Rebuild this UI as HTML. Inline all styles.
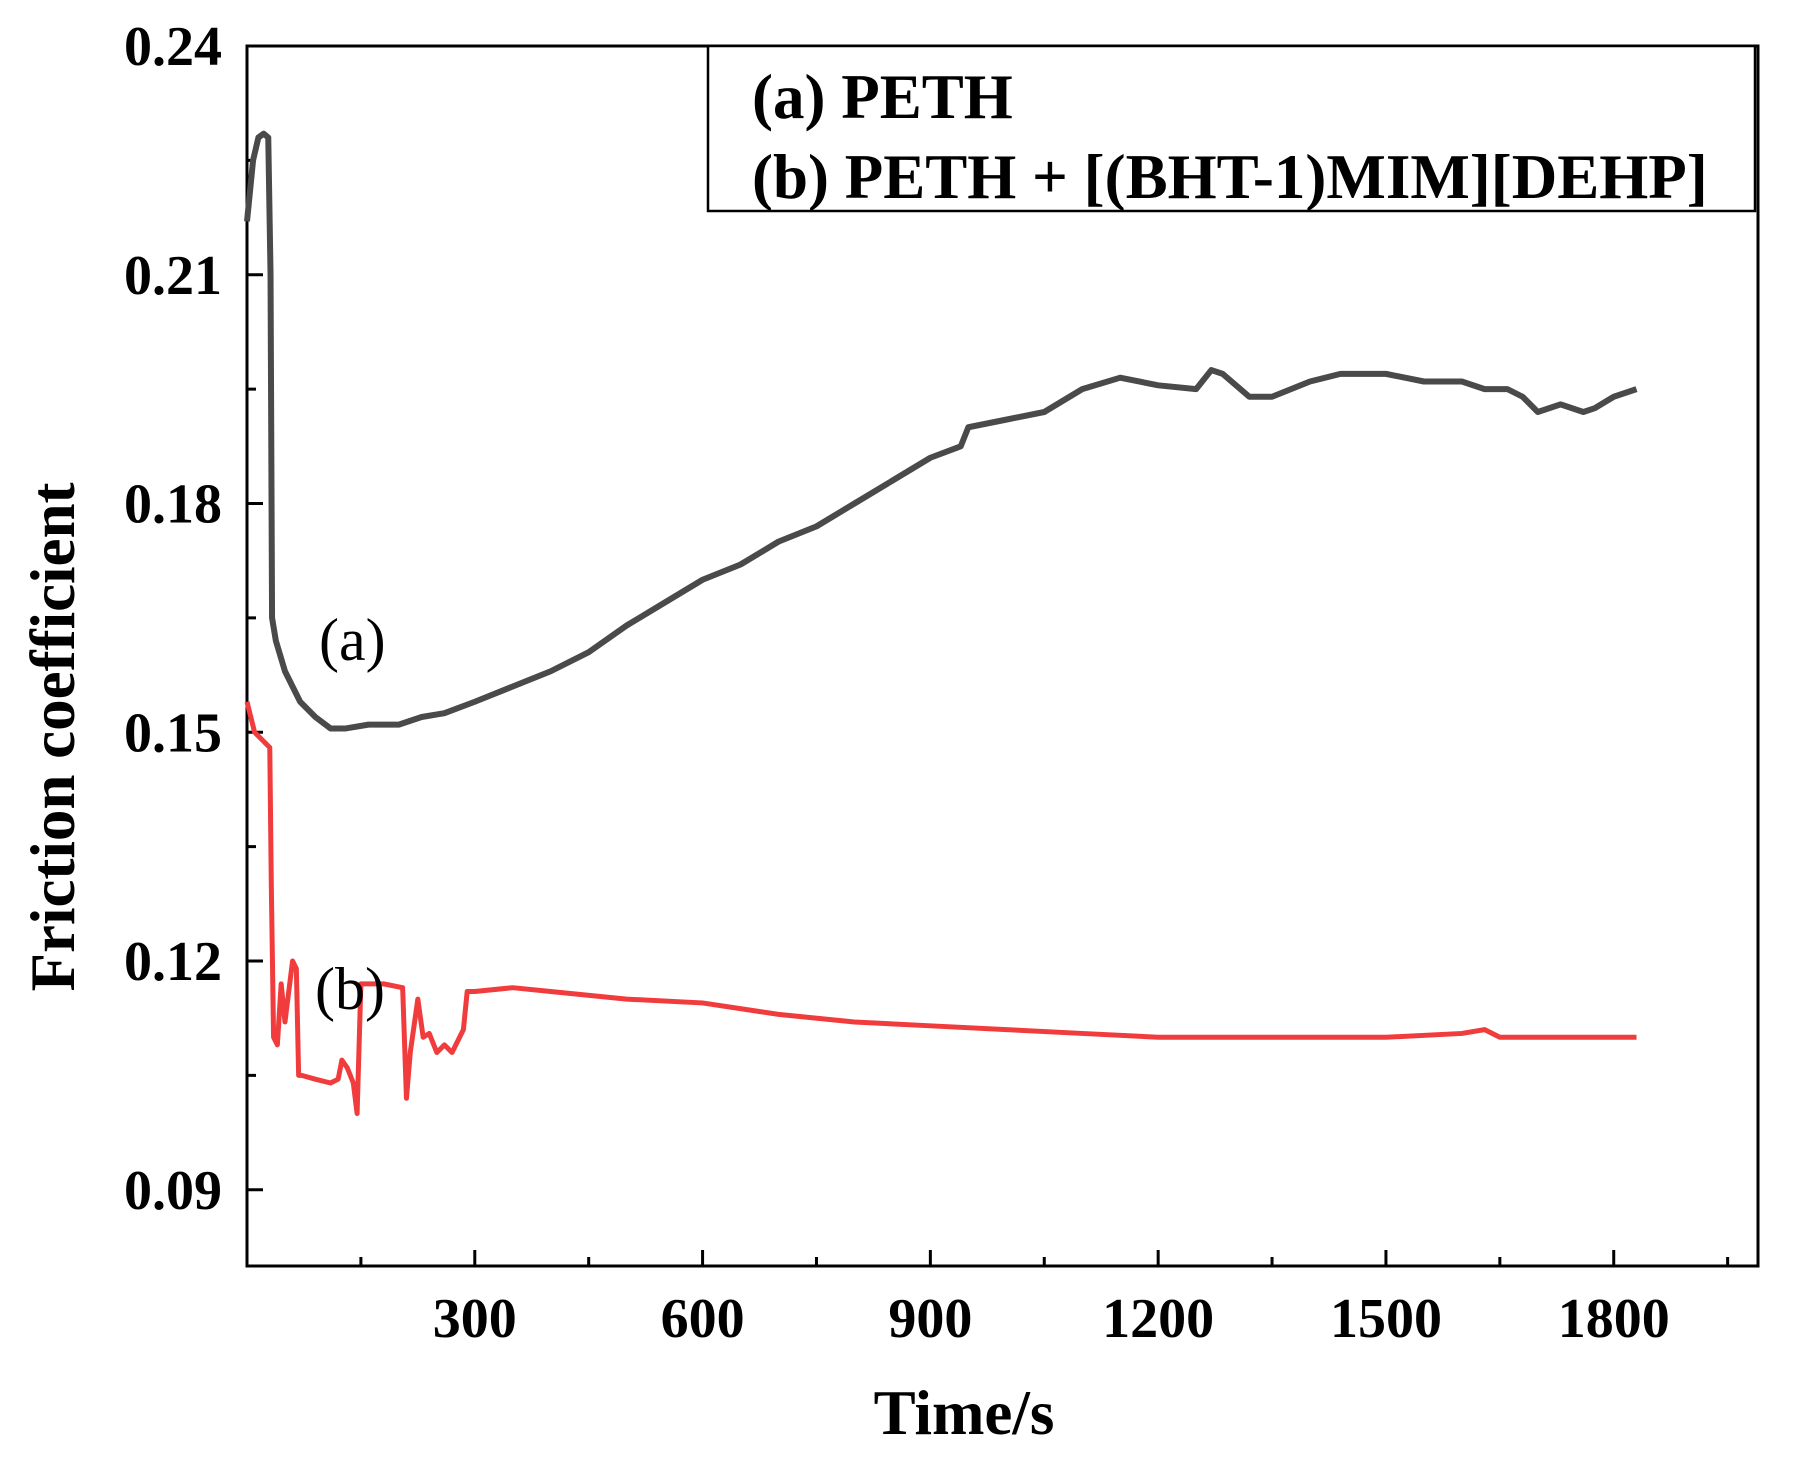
<!DOCTYPE html>
<html><head><meta charset="utf-8"><style>
body{margin:0;background:#fff}
svg text{font-family:"Liberation Serif",serif;font-weight:bold;fill:#000}
</style></head><body>
<svg id="c" width="1796" height="1463" xmlns="http://www.w3.org/2000/svg"></svg>
<script>
const timesA=[0,8,15,22,28,31,33,38,50,70,90,110,130,160,200,230,260,300,350,400,450,500,550,600,650,700,750,800,850,900,940,950,1000,1050,1100,1150,1200,1250,1270,1285,1320,1350,1400,1440,1500,1550,1600,1630,1660,1680,1700,1730,1760,1775,1800,1830];
const valuesA=[0.217,0.225,0.228,0.2285,0.228,0.21,0.165,0.162,0.158,0.154,0.152,0.1505,0.1505,0.151,0.151,0.152,0.1525,0.154,0.156,0.158,0.1605,0.164,0.167,0.170,0.172,0.175,0.177,0.180,0.183,0.186,0.1875,0.190,0.191,0.192,0.195,0.1965,0.1955,0.195,0.1975,0.197,0.194,0.194,0.196,0.197,0.197,0.196,0.196,0.195,0.195,0.194,0.192,0.193,0.192,0.1925,0.194,0.195];
const timesB=[0,10,20,30,32,35,40,45,50,55,60,65,68,72,90,110,120,125,132,140,145,150,180,205,210,215,225,232,240,250,260,270,280,285,290,300,350,400,500,600,700,800,900,1000,1100,1200,1300,1400,1500,1600,1630,1650,1700,1830];
const valuesB=[0.154,0.150,0.149,0.148,0.130,0.110,0.109,0.117,0.112,0.116,0.120,0.119,0.105,0.105,0.1045,0.104,0.1045,0.107,0.106,0.104,0.100,0.117,0.117,0.1165,0.102,0.108,0.115,0.110,0.1105,0.108,0.109,0.108,0.110,0.111,0.116,0.116,0.1165,0.116,0.115,0.1145,0.113,0.112,0.1115,0.111,0.1105,0.110,0.110,0.110,0.110,0.1105,0.111,0.110,0.110,0.110];
const yTicks=[0.09,0.12,0.15,0.18,0.21,0.24];
const xTicks=[300,600,900,1200,1500,1800];
const L=247,R=1758,T=46,B=1266,X0=0,X1=1990,Y0=0.08,Y1=0.24;
const sx=v=>L+(v-X0)/(X1-X0)*(R-L), sy=v=>B-(v-Y0)/(Y1-Y0)*(B-T);
const svg=document.getElementById('c');const NS='http://www.w3.org/2000/svg';
function mk(t,a,p){const e=document.createElementNS(NS,t);for(const k in a)e.setAttribute(k,a[k]);(p||svg).appendChild(e);return e;}
let e;
e=mk('rect',{x:L,y:T,width:R-L,height:B-T,fill:'none',stroke:'#000','stroke-width':3});

yTicks.forEach(v=>{const y=sy(v);
 e=mk('line',{x1:L,x2:L+16,y1:y,y2:y,stroke:'#000','stroke-width':3});
 e=mk('text',{x:222,y:y+19,'font-size':56,'text-anchor':'end'});e.textContent=v.toFixed(2);});
for(let v=0.105;v<0.24;v+=0.03){const y=sy(v);e=mk('line',{x1:L,x2:L+9,y1:y,y2:y,stroke:'#000','stroke-width':3});}
xTicks.forEach(v=>{const x=sx(v);
 e=mk('line',{x1:x,x2:x,y1:B,y2:B-16,stroke:'#000','stroke-width':3});
 e=mk('text',{x:x,y:1337,'font-size':56,'text-anchor':'middle'});e.textContent=v;});
for(let v=150;v<1990;v+=300){const x=sx(v);e=mk('line',{x1:x,x2:x,y1:B,y2:B-9,stroke:'#000','stroke-width':3});}
e=mk('polyline',{points:timesA.map((t,i)=>sx(t)+','+sy(valuesA[i])).join(' '),fill:'none',stroke:'#4a4a4a','stroke-width':6,'stroke-linejoin':'round'});

e=mk('polyline',{points:timesB.map((t,i)=>sx(t)+','+sy(valuesB[i])).join(' '),fill:'none',stroke:'#f03c3c','stroke-width':5,'stroke-linejoin':'round'});

e=mk('text',{x:319,y:660,'font-size':60,style:'font-weight:normal'});e.textContent='(a)';
e=mk('text',{x:315,y:1009,'font-size':60,style:'font-weight:normal'});e.textContent='(b)';
e=mk('rect',{x:708,y:46,width:1047,height:165,fill:'#fff',stroke:'#000','stroke-width':2.5});
e=mk('text',{x:752,y:118,'font-size':63});e.textContent='(a) PETH';
e=mk('text',{x:752,y:198,'font-size':63});e.textContent='(b) PETH + [(BHT-1)MIM][DEHP]';
e=mk('text',{x:964,y:1434,'font-size':63,'text-anchor':'middle'});e.textContent='Time/s';
e=mk('text',{x:0,y:0,'font-size':63,'text-anchor':'middle',transform:'translate(74,737) rotate(-90)'});e.textContent='Friction coefficient';
</script>
</body></html>
